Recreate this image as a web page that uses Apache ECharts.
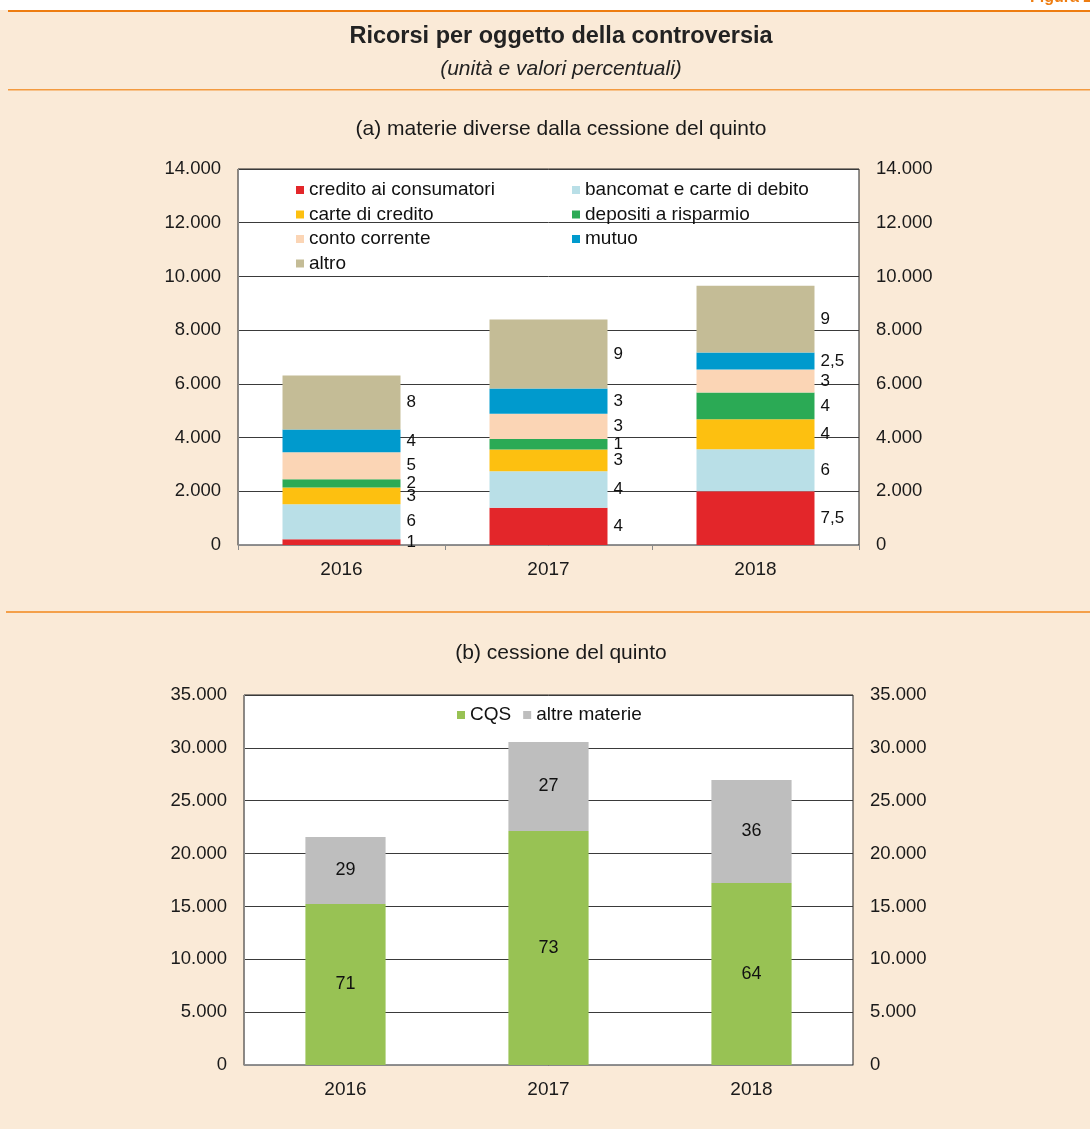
<!DOCTYPE html>
<html>
<head>
<meta charset="utf-8">
<script src="https://cdn.jsdelivr.net/npm/echarts@6/dist/echarts.min.js"></script>
<style>
html,body{margin:0;padding:0;background:#FAEAD7;}
#c{width:1090px;height:1129px;}
</style>
</head>
<body>
<div id="c"></div>
<script>
// ---- data ----
var years = ['2016', '2017', '2018'];

// (a) materie diverse dalla cessione del quinto (unità)
var seriesNamesA = ['credito ai consumatori', 'bancomat e carte di debito', 'carte di credito',
  'depositi a risparmio', 'conto corrente', 'mutuo', 'altro'];
var creditoConsumatori = [210, 1385, 2005];
var bancomatDebito = [1310, 1363, 1560];
var carteCredito = [620, 806, 1114];
var depositiRisparmio = [309, 393, 1002];
var contoCorrente = [1002, 943, 854];
var mutuo = [854, 940, 632];
var altro = [2006, 2562, 2488];

// percentage labels (a)
var lblCredito = ['1', '4', '7,5'];
var lblBancomat = ['6', '4', '6'];
var lblCarte = ['3', '3', '4'];
var lblDepositi = ['2', '1', '4'];
var lblConto = ['5', '3', '3'];
var lblMutuo = ['4', '3', '2,5'];
var lblAltro = ['8', '9', '9'];

// (b) cessione del quinto (unità)
var cqs = [15230, 22136, 17217];
var altreMaterie = [6338, 8419, 9743];
var lblCqs = ['71', '73', '64'];
var lblAltreMaterie = ['29', '27', '36'];

// axis ticks
var ticksA = {min: 0, max: 14000, interval: 2000};
var ticksB = {min: 0, max: 35000, interval: 5000};

// ---- chart ----
var FONT = '"Liberation Sans", Arial, sans-serif';
function fmt(v) { return String(v).replace(/\B(?=(\d{3})+(?!\d))/g, '.'); }

var colorsA = ['#E3262A', '#B9DFE7', '#FDC010', '#2BAA55', '#FBD5B5', '#009ACD', '#C4BC96'];
var valuesA = [creditoConsumatori, bancomatDebito, carteCredito, depositiRisparmio, contoCorrente, mutuo, altro];
var labelsA = [lblCredito, lblBancomat, lblCarte, lblDepositi, lblConto, lblMutuo, lblAltro];

var seriesA = seriesNamesA.map(function (n, i) {
  return {
    name: n, type: 'bar', stack: 'a', xAxisIndex: 0, yAxisIndex: 0,
    barWidth: '57%',
    itemStyle: {color: colorsA[i]},
    data: valuesA[i],
    label: {
      show: true, position: 'right', distance: 6,
      fontFamily: FONT, fontSize: 17, color: '#111',
      formatter: (function (arr) { return function (p) { return arr[p.dataIndex]; }; })(labelsA[i])
    }
  };
});

var seriesB = [
  {name: 'CQS', type: 'bar', stack: 'b', xAxisIndex: 1, yAxisIndex: 2, barWidth: '39.5%',
   itemStyle: {color: '#98C254'}, data: cqs,
   label: {show: true, position: 'inside', fontFamily: FONT, fontSize: 18, color: '#111',
     formatter: function (p) { return lblCqs[p.dataIndex]; }}},
  {name: 'altre materie', type: 'bar', stack: 'b', xAxisIndex: 1, yAxisIndex: 2, barWidth: '39.5%',
   itemStyle: {color: '#BEBEBE'}, data: altreMaterie,
   label: {show: true, position: 'inside', fontFamily: FONT, fontSize: 18, color: '#111',
     formatter: function (p) { return lblAltreMaterie[p.dataIndex]; }}}
];

function yAx(grid, t, pos, showGrid) {
  return {
    type: 'value', gridIndex: grid, position: pos, min: t.min, max: t.max, interval: t.interval,
    axisLine: {show: pos === 'left', lineStyle: {color: '#8a8a8a'}},
    axisTick: {show: false},
    splitLine: {show: showGrid, lineStyle: {color: '#3a3a3a', width: 1}},
    axisLabel: {fontFamily: FONT, fontSize: 18.5, color: '#1a1a1a', margin: 17, formatter: fmt}
  };
}
function xAx(grid, ticks) {
  return {
    type: 'category', gridIndex: grid, data: years,
    axisLine: {lineStyle: {color: '#8a8a8a'}},
    axisTick: {show: ticks, length: 5, lineStyle: {color: '#8a8a8a'}},
    axisLabel: {fontFamily: FONT, fontSize: 19, color: '#1a1a1a', margin: 15}
  };
}

var legendText = {fontFamily: FONT, fontSize: 19, color: '#111', lineHeight: 20};

var option = {
  backgroundColor: '#FAEAD7',
  animation: false,
  title: [
    {text: 'Ricorsi per oggetto della controversia', left: 556, top: 20, textAlign: 'center',
     textStyle: {fontFamily: FONT, fontSize: 23.5, fontWeight: 'bold', color: '#222'}},
    {text: '(unità e valori percentuali)', left: 556, top: 54, textAlign: 'center',
     textStyle: {fontFamily: FONT, fontSize: 21, fontStyle: 'italic', fontWeight: 'normal', color: '#222'}},
    {text: '(a) materie diverse dalla cessione del quinto', left: 556, top: 114, textAlign: 'center',
     textStyle: {fontFamily: FONT, fontSize: 21, fontWeight: 'normal', color: '#1a1a1a'}},
    {text: '(b) cessione del quinto', left: 556, top: 638, textAlign: 'center',
     textStyle: {fontFamily: FONT, fontSize: 21, fontWeight: 'normal', color: '#1a1a1a'}}
  ],
  graphic: [
    {type: 'rect', shape: {x: 0, y: 0, width: 1090, height: 10}, style: {fill: '#ffffff'}, z: 0},
    {type: 'text', x: 1030, y: 6, style: {text: 'Figura 2.5', fontFamily: FONT, fontSize: 16, fontWeight: 'bold',
      fill: '#EE7D11', textVerticalAlign: 'bottom', textAlign: 'left'}},
    {type: 'rect', shape: {x: 8, y: 10, width: 1090, height: 2}, style: {fill: '#EE7D11'}},
    {type: 'rect', shape: {x: 8, y: 89, width: 1090, height: 1.5}, style: {fill: '#F39A3F'}},
    {type: 'rect', shape: {x: 6, y: 611, width: 1090, height: 2}, style: {fill: '#F4A04A'}}
  ],
  legend: [
    {data: ['credito ai consumatori', 'carte di credito', 'conto corrente', 'altro'],
     orient: 'vertical', left: 296, top: 180, padding: 0, itemWidth: 8, itemHeight: 8, itemGap: 4.5,
     icon: 'rect', textStyle: legendText},
    {data: ['bancomat e carte di debito', 'depositi a risparmio', 'mutuo'],
     orient: 'vertical', left: 572, top: 180, padding: 0, itemWidth: 8, itemHeight: 8, itemGap: 4.5,
     icon: 'rect', textStyle: legendText},
    {data: ['CQS', 'altre materie'], orient: 'horizontal', left: 457, top: 705, padding: 0,
     itemWidth: 8, itemHeight: 8, itemGap: 12, icon: 'rect', textStyle: legendText}
  ],
  grid: [
    {left: 238, right: 231, top: 169, height: 376, show: true, backgroundColor: '#ffffff', borderColor: '#222', borderWidth: 1},
    {left: 244, right: 237, top: 695, height: 370, show: true, backgroundColor: '#ffffff', borderColor: '#222', borderWidth: 1}
  ],
  xAxis: [xAx(0, true), xAx(1, false)],
  yAxis: [yAx(0, ticksA, 'left', true), yAx(0, ticksA, 'right', false),
          yAx(1, ticksB, 'left', true), yAx(1, ticksB, 'right', false)],
  series: seriesA.concat(seriesB)
};

var chart = echarts.init(document.getElementById('c'), null, {renderer: 'canvas'});
chart.setOption(option);
</script>
</body>
</html>
